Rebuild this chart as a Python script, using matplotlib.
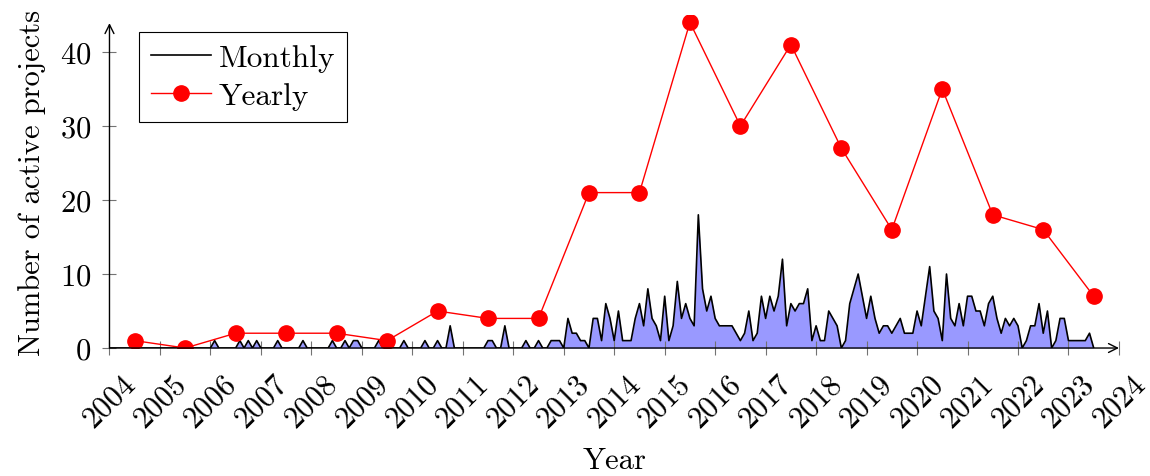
import matplotlib
matplotlib.use("Agg")
import matplotlib.pyplot as plt
import numpy as np

plt.rcParams['font.family'] = 'cmr10'
plt.rcParams['axes.formatter.use_mathtext'] = True
plt.rcParams['font.size'] = 22

# monthly counts, one list per year (2023 stops in July)
monthly_by_year = {
    2004: [0, 0, 0, 0, 0, 0, 0, 0, 0, 0, 0, 0],
    2005: [0, 0, 0, 0, 0, 0, 0, 0, 0, 0, 0, 0],
    2006: [0, 1, 0, 0, 0, 0, 0, 1, 0, 1, 0, 1],
    2007: [0, 0, 0, 0, 1, 0, 0, 0, 0, 0, 1, 0],
    2008: [0, 0, 0, 0, 0, 1, 0, 0, 1, 0, 1, 1],
    2009: [0, 0, 0, 0, 1, 0, 0, 0, 0, 0, 1, 0],
    2010: [0, 0, 0, 1, 0, 0, 1, 0, 0, 3, 0, 0],
    2011: [0, 0, 0, 0, 0, 0, 1, 1, 0, 0, 3, 0],
    2012: [0, 0, 0, 1, 0, 0, 1, 0, 0, 1, 1, 1],
    2013: [0, 4, 2, 2, 1, 1, 0, 4, 4, 1, 6, 4],
    2014: [1, 5, 1, 1, 1, 4, 6, 3, 8, 4, 3, 1],
    2015: [7, 1, 3, 9, 4, 6, 4, 3, 18, 8, 5, 7],
    2016: [4, 3, 3, 3, 3, 2, 1, 2, 5, 1, 2, 7],
    2017: [4, 7, 5, 7, 12, 3, 6, 5, 6, 6, 8, 1],
    2018: [3, 1, 1, 5, 4, 3, 0, 1, 6, 8, 10, 7],
    2019: [4, 7, 4, 2, 3, 3, 2, 3, 4, 2, 2, 2],
    2020: [5, 3, 7, 11, 5, 4, 1, 10, 4, 3, 6, 3],
    2021: [7, 7, 5, 5, 3, 6, 7, 4, 2, 4, 3, 4],
    2022: [3, 0, 1, 3, 3, 6, 2, 5, 0, 1, 4, 4],
    2023: [1, 1, 1, 1, 1, 2, 0],
}

years = [2004, 2005, 2006, 2007, 2008, 2009, 2010, 2011, 2012, 2013,
         2014, 2015, 2016, 2017, 2018, 2019, 2020, 2021, 2022, 2023]
yearly = [1, 0, 2, 2, 2, 1, 5, 4, 4, 21, 21, 44, 30, 41, 27, 16, 35, 18, 16, 7]

xticks = list(range(2004, 2025))
yticks = [0, 10, 20, 30, 40]

mx, my = [], []
for yr, vals in monthly_by_year.items():
    for m, v in enumerate(vals):
        mx.append(yr + m / 12)
        my.append(v)
mx = np.array(mx)
my = np.array(my)

fig = plt.figure(figsize=(11.5, 4.77), dpi=100)
ax = fig.add_axes([0.0952, 0.2683, 0.8778, 0.6982])

ax.fill_between(mx, 0, my, color='#9999ff', lw=0)
ax.plot(mx, my, color='black', lw=1.2, label='Monthly')
ax.plot(np.array(years) + 0.5, yearly, color='red', lw=1.0, marker='o',
        markersize=11, label='Yearly')

ax.set_xlim(2004, 2024)
ax.set_ylim(0, 45)
for s in ax.spines.values():
    s.set_visible(False)

ax.annotate('', xy=(2024.0, 0), xytext=(2004, 0),
            arrowprops=dict(arrowstyle='->', color='black', lw=1.0,
                            mutation_scale=16, shrinkA=0, shrinkB=0),
            annotation_clip=False)
ax.annotate('', xy=(2004, 43.9), xytext=(2004, 0),
            arrowprops=dict(arrowstyle='->', color='black', lw=1.0,
                            mutation_scale=16, shrinkA=0, shrinkB=0),
            annotation_clip=False)

ax.set_xticks(xticks)
ax.set_xticklabels([str(t) for t in xticks], rotation=45, ha='center')
ax.set_yticks(yticks)
ax.tick_params(direction='inout', length=10, width=0.8, color='0.45')
ax.tick_params(axis='x', pad=10)
ax.tick_params(axis='y', pad=8)

ax.set_xlabel('Year', labelpad=11)
ax.set_ylabel('Number of active projects', labelpad=10)

leg = ax.legend(loc='upper left', bbox_to_anchor=(0.029, 0.949),
                borderaxespad=0, fancybox=False, edgecolor='black',
                framealpha=1, handlelength=1.9, handletextpad=0.25,
                borderpad=0.4, labelspacing=0.3, fontsize=22.5)
leg.get_frame().set_linewidth(0.8)

fig.savefig('out.png', dpi=100)
